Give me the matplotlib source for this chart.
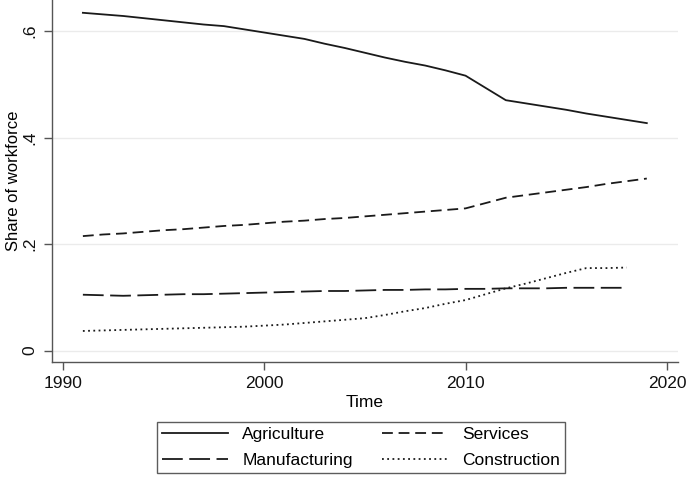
import numpy as np
import matplotlib.pyplot as plt

plt.rcParams['font.family'] = ['Liberation Sans', 'DejaVu Sans']

years = list(range(1991, 2020))
years_short = list(range(1991, 2019))

agriculture = [0.634, 0.631, 0.628, 0.624, 0.620, 0.616, 0.612, 0.609, 0.603, 0.597,
               0.591, 0.585, 0.576, 0.568, 0.559, 0.550, 0.542, 0.535, 0.526, 0.516,
               0.493, 0.470, 0.464, 0.458, 0.452, 0.445, 0.439, 0.433, 0.427]
services = [0.215, 0.218, 0.220, 0.223, 0.226, 0.228, 0.231, 0.234, 0.236, 0.239,
            0.242, 0.244, 0.247, 0.249, 0.252, 0.255, 0.258, 0.261, 0.264, 0.267,
            0.277, 0.287, 0.292, 0.297, 0.302, 0.307, 0.313, 0.318, 0.323]
manufacturing = [0.105, 0.104, 0.103, 0.104, 0.105, 0.106, 0.106, 0.107, 0.108, 0.109,
                 0.110, 0.111, 0.112, 0.112, 0.113, 0.114, 0.114, 0.115, 0.115, 0.116,
                 0.116, 0.117, 0.117, 0.117, 0.118, 0.118, 0.118, 0.118]
construction = [0.037, 0.038, 0.039, 0.040, 0.041, 0.042, 0.043, 0.044, 0.045, 0.047,
                0.049, 0.052, 0.055, 0.058, 0.061, 0.067, 0.074, 0.080, 0.088, 0.095,
                0.106, 0.117, 0.126, 0.136, 0.146, 0.155, 0.155, 0.156]

yticks = [0, 0.2, 0.4, 0.6]
ytick_labels = ['0', '.2', '.4', '.6']
xticks = [1990, 2000, 2010, 2020]

fig = plt.figure(figsize=(6.88, 4.82), dpi=100)
ax = fig.add_axes([0.0751, 0.249, 0.9104, 0.751])

c = '#1a1a1a'
l1, = ax.plot(years, agriculture, color=c, lw=1.3, ls='-', label='Agriculture')
l2, = ax.plot(years, services, color=c, lw=1.3, ls=(0, (6.0, 3.2)), label='Services')
l3, = ax.plot(years_short, manufacturing, color=c, lw=1.3, ls=(0, (11.5, 3.6)), label='Manufacturing')
l4, = ax.plot(years_short, construction, color=c, lw=1.3, ls=(0, (1.0, 1.9)), label='Construction')

ax.set_xlim(1989.45, 2020.55)
ax.set_ylim(-0.0212, 0.658)
ax.set_yticks(yticks)
ax.set_yticklabels(ytick_labels, rotation=90, va='center')
ax.set_xticks(xticks)
ax.grid(axis='y', color='#ebebeb', lw=1.0)
ax.set_axisbelow(True)

for s in ['top', 'right']:
    ax.spines[s].set_visible(False)
for s in ['left', 'bottom']:
    ax.spines[s].set_color('#555555')
    ax.spines[s].set_linewidth(1.0)
ax.tick_params(axis='both', colors='#555555', length=6, width=1.0, labelsize=12.5,
               labelcolor='#111111')
ax.tick_params(axis='y', pad=4)
ax.tick_params(axis='x', pad=4)

ax.set_xlabel('Time', fontsize=12.5, labelpad=3)
ax.set_ylabel('Share of workforce', fontsize=12, labelpad=1)

# order so rows read: Agriculture / Services, Manufacturing / Construction
leg = fig.legend(handles=[l1, l3, l2, l4], ncol=2, loc='lower center',
                 bbox_to_anchor=(0.525, 0.0), fontsize=12.5, frameon=True,
                 fancybox=False, edgecolor='#333333', handlelength=3.8,
                 columnspacing=1.7, handletextpad=0.8, borderpad=0.3,
                 labelspacing=0.62)
leg.get_frame().set_linewidth(1.0)

fig.savefig('out.png', dpi=100)
